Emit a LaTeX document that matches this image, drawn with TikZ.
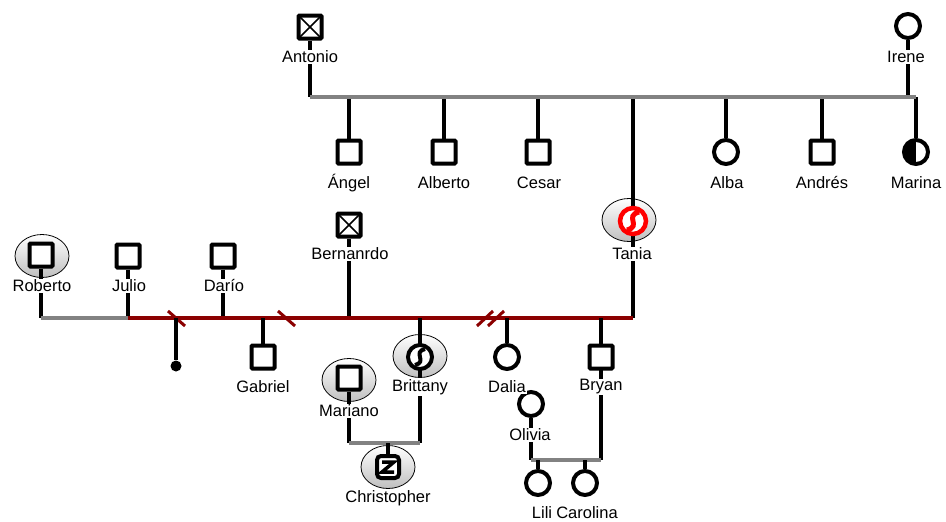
\documentclass[tikz,border=0pt]{standalone}
\usepackage{fontspec}
\setmainfont{Liberation Sans}
\usetikzlibrary{shapes.geometric}
\pgfdeclarelayer{bg}\pgfdeclarelayer{fg}\pgfsetlayers{bg,main,fg}
\definecolor{mred}{RGB}{139,0,0}
\definecolor{sgray}{RGB}{130,130,130}
\definecolor{tred}{RGB}{255,0,0}
\begin{document}
\begin{tikzpicture}[x=1pt,y=-1pt,
  sq/.style={rectangle,draw,line width=4pt,fill=white,minimum size=23pt,inner sep=0pt,rounded corners=1pt},
  ci/.style={circle,draw,line width=4pt,fill=white,minimum size=24pt,inner sep=0pt},
  dec/.style={sq,path picture={\draw[black,line width=1.5pt]
     (path picture bounding box.south west)--(path picture bounding box.north east)
     (path picture bounding box.north west)--(path picture bounding box.south east);}},
  half/.style={ci,path picture={\fill[black] (path picture bounding box.south west) rectangle (path picture bounding box.north);}},
  shell/.style={ellipse,draw,line width=0.8pt,top color=white,bottom color=gray!50,minimum width=54pt,minimum height=43pt,inner sep=0pt},
  lbl/.style={fill=white,inner sep=1pt,font=\fontsize{16.5}{18}\selectfont},
  vl/.style={line width=4pt},
  sib/.style={line width=4pt,draw=sgray},
  mar/.style={line width=4pt,draw=mred},
  brk/.style={line width=3pt,draw=mred},
  dotn/.style={circle,fill,inner sep=0pt,minimum size=11pt}]
\useasboundingbox (0,0) rectangle (946,522);
% shaded shells
\begin{pgfonlayer}{bg}
\node[shell] (taniaE) at (629,220) {};
\node[shell] (robertoE) at (42,256) {};
\node[shell] (brittE) at (420,356) {};
\node[shell] (marianoE) at (349,380) {};
\node[shell] (chrisE) at (388,467) {};
\end{pgfonlayer}
% symbols
\begin{pgfonlayer}{fg}
\node[dec] (antonio) at (310,27) {};
\node[ci] (irene) at (908,26) {};
\node[sq] (angel) at (349,152) {};
\node[sq] (alberto) at (444,152) {};
\node[sq] (cesar) at (538,152) {};
\node[circle,draw=tred,line width=4.5pt,fill=white,minimum size=26pt,inner sep=0pt] (tania) at (633,221) {};
\draw[line width=5pt,tred,shift={(tania.center)}] (6,-9) .. controls (-9,-5) and (9,5) .. (-6,9);
\node[ci] (alba) at (726,152) {};
\node[sq] (andres) at (822,152) {};
\node[half] (marina) at (916,152) {};
\node[sq] (roberto) at (41,255) {};
\node[sq] (julio) at (128,256) {};
\node[sq] (dario) at (223,256) {};
\node[dec] (bern) at (349,225) {};
\node[dotn] (mis) at (176,366) {};
\node[sq] (gabriel) at (263,357) {};
\node[ci] (britt) at (420,357) {};
\draw[line width=4pt,shift={(britt.center)}] (5,-8) .. controls (-8,-5) and (8,5) .. (-5,8);
\node[ci] (dalia) at (507,357) {};
\node[sq] (bryan) at (601,357) {};
\node[sq] (mariano) at (349,378) {};
\node[sq,rounded corners=4pt,minimum size=22pt] (chris) at (388,467) {};
\draw[line width=3.5pt,shift={(chris.center)}] (-6,-5) -- (6,-5) -- (-6,5) -- (6,5);
\node[ci] (olivia) at (531,404) {};
\node[ci] (lili) at (538,483) {};
\node[ci] (carolina) at (585,483) {};
% labels
\node[lbl] at (310,57) {Antonio};
\node[lbl] at (906,57) {Irene};
\node[lbl] at (349,183) {Ángel};
\node[lbl] at (444,183) {Alberto};
\node[lbl] at (539,183) {Cesar};
\node[lbl] at (727,183) {Alba};
\node[lbl] at (822,183) {Andrés};
\node[lbl] at (916,183) {Marina};
\node[lbl] at (632,254) {Tania};
\node[lbl] at (42,286) {Roberto};
\node[lbl] at (129,286) {Julio};
\node[lbl] at (224,286) {Darío};
\node[lbl] at (350,254) {Bernanrdo};
\node[lbl] at (263,387) {Gabriel};
\node[lbl] at (420,387) {Brittany};
\node[lbl] at (349,411) {Mariano};
\node[lbl] at (507,387) {Dalia};
\node[lbl] at (601,387) {Bryan};
\node[lbl] at (530,435) {Olivia};
\node[lbl] at (388,498) {Christopher};
\node[lbl] at (542,513) {Lili};
\node[lbl] at (587,513) {Carolina};
\end{pgfonlayer}
% connector points
\coordinate (gA) at (310,97);
\coordinate (gB) at (916,97);
\coordinate (rL) at (41,318);
\coordinate (jM) at (128,318);
\coordinate (mR) at (633,318);
\coordinate (cL) at (349,443);
\coordinate (cR) at (420,443);
\coordinate (oL) at (531,460);
\coordinate (oR) at (601,460);
% first generation
\draw[vl] (antonio) -- (gA);
\draw[vl] (irene) -- (irene |- gB);
\draw[vl] (angel) -- (angel |- gA);
\draw[vl] (alberto) -- (alberto |- gA);
\draw[vl] (cesar) -- (cesar |- gA);
\draw[vl] (tania |- gA) -- (mR);
\draw[vl] (alba) -- (alba |- gA);
\draw[vl] (andres) -- (andres |- gA);
\draw[vl] (marina) -- (gB);
\draw[sib] (gA) -- (gB);
% second generation
\draw[vl] (roberto) -- (rL);
\draw[vl] (julio) -- (jM);
\draw[vl] (dario) -- (dario |- mR);
\draw[vl] (bern) -- (bern |- mR);
\draw[sib] (rL) -- (jM);
\draw[mar] (jM) -- (mR);
\draw[brk] (168,311) -- (185,326);
\draw[brk] (278,311) -- (295,326);
\draw[brk] (477,326) -- (493,311);
\draw[brk] (488,326) -- (504,311);
\draw[vl] (mis) -- (mis |- mR);
\draw[vl] (gabriel) -- (gabriel |- mR);
\draw[vl] (britt |- mR) -- (cR);
\draw[vl] (dalia) -- (dalia |- mR);
\draw[vl] (bryan |- mR) -- (oR);
% third generation
\draw[vl] (mariano) -- (cL);
\draw[sib] (cL) -- (cR);
\draw[vl] (chris) -- (chris |- cL);
\draw[vl] (olivia) -- (oL);
\draw[sib] (oL) -- (oR);
\draw[vl] (lili) -- (lili |- oL);
\draw[vl] (carolina) -- (carolina |- oL);
\end{tikzpicture}
\end{document}
